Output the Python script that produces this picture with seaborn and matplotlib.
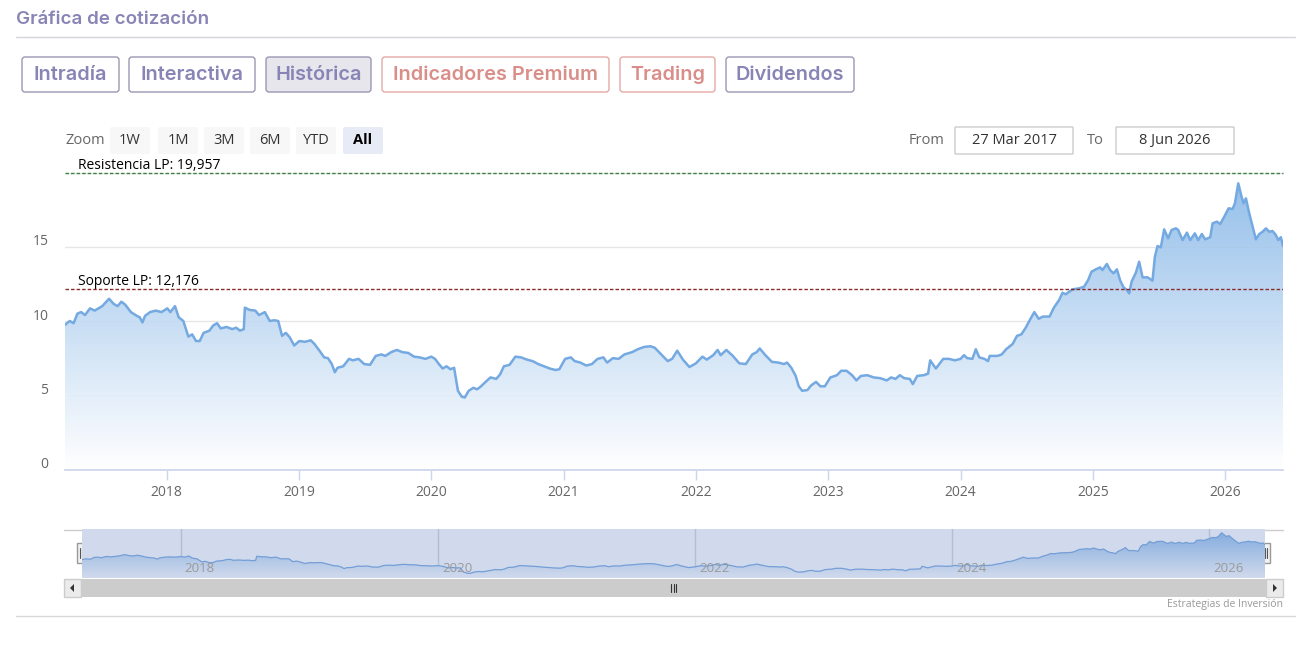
import numpy as np
import matplotlib
matplotlib.use("Agg")
import matplotlib.pyplot as plt
import matplotlib.transforms as mtransforms
from matplotlib.patches import FancyBboxPatch, Rectangle
from matplotlib.colors import LinearSegmentedColormap
import seaborn as sns

# price history (decimal years, price)
dates = [
    2017.233, 2017.269, 2017.298, 2017.327, 2017.355, 2017.384, 2017.422, 2017.457,
    2017.514, 2017.566, 2017.601, 2017.630, 2017.659, 2017.688, 2017.731, 2017.775,
    2017.798, 2017.818, 2017.838, 2017.876, 2017.919, 2017.962, 2018.006, 2018.029,
    2018.064, 2018.092, 2018.127, 2018.165, 2018.194, 2018.223, 2018.251, 2018.280,
    2018.324, 2018.353, 2018.382, 2018.410, 2018.454, 2018.497, 2018.526, 2018.555,
    2018.584, 2018.592, 2018.627, 2018.671, 2018.699, 2018.743, 2018.780, 2018.815,
    2018.844, 2018.873, 2018.902, 2018.931, 2018.965, 2019.003, 2019.046, 2019.090,
    2019.118, 2019.156, 2019.191, 2019.220, 2019.249, 2019.272, 2019.292, 2019.335,
    2019.379, 2019.408, 2019.451, 2019.494, 2019.538, 2019.581, 2019.624, 2019.653,
    2019.697, 2019.740, 2019.783, 2019.827, 2019.870, 2019.913, 2019.957, 2020.000,
    2020.029, 2020.058, 2020.087, 2020.116, 2020.145, 2020.173, 2020.202, 2020.231,
    2020.254, 2020.283, 2020.318, 2020.347, 2020.376, 2020.405, 2020.448, 2020.491,
    2020.520, 2020.549, 2020.592, 2020.636, 2020.679, 2020.723, 2020.766, 2020.809,
    2020.853, 2020.896, 2020.939, 2020.968, 2021.012, 2021.055, 2021.084, 2021.127,
    2021.171, 2021.214, 2021.257, 2021.301, 2021.329, 2021.373, 2021.416, 2021.460,
    2021.517, 2021.561, 2021.607, 2021.656, 2021.689, 2021.738, 2021.787, 2021.820,
    2021.859, 2021.902, 2021.951, 2022.000, 2022.049, 2022.082, 2022.131, 2022.164,
    2022.187, 2022.230, 2022.279, 2022.328, 2022.377, 2022.426, 2022.459, 2022.482,
    2022.525, 2022.574, 2022.623, 2022.666, 2022.689, 2022.721, 2022.754, 2022.777,
    2022.803, 2022.843, 2022.869, 2022.908, 2022.941, 2022.974, 2023.016, 2023.066,
    2023.098, 2023.138, 2023.180, 2023.213, 2023.246, 2023.295, 2023.344, 2023.393,
    2023.443, 2023.475, 2023.508, 2023.541, 2023.574, 2023.616, 2023.639, 2023.672,
    2023.721, 2023.754, 2023.770, 2023.813, 2023.869, 2023.911, 2023.957, 2024.000,
    2024.026, 2024.049, 2024.089, 2024.115, 2024.141, 2024.180, 2024.207, 2024.220,
    2024.279, 2024.311, 2024.344, 2024.393, 2024.426, 2024.459, 2024.492, 2024.525,
    2024.557, 2024.590, 2024.623, 2024.672, 2024.705, 2024.744, 2024.770, 2024.795,
    2024.820, 2024.846, 2024.896, 2024.933, 2024.964, 2024.989, 2025.022, 2025.054,
    2025.072, 2025.105, 2025.130, 2025.156, 2025.181, 2025.206, 2025.231, 2025.256,
    2025.274, 2025.292, 2025.324, 2025.349, 2025.375, 2025.413, 2025.450, 2025.468,
    2025.488, 2025.513, 2025.538, 2025.568, 2025.594, 2025.627, 2025.644, 2025.677,
    2025.710, 2025.735, 2025.770, 2025.795, 2025.823, 2025.848, 2025.886, 2025.904,
    2025.937, 2025.961, 2025.992, 2026.025, 2026.055, 2026.073, 2026.098, 2026.123,
    2026.138, 2026.156, 2026.181, 2026.207, 2026.231, 2026.257, 2026.282, 2026.307,
    2026.332, 2026.357, 2026.382, 2026.400, 2026.420, 2026.436,
]
prices = [
    9.75, 10.0, 9.85, 10.5, 10.6, 10.4, 10.85, 10.7,
    11.0, 11.5, 11.15, 11.0, 11.3, 11.1, 10.6, 10.35,
    10.25, 9.9, 10.35, 10.6, 10.7, 10.6, 10.85, 10.6,
    11.0, 10.25, 10.0, 8.95, 9.1, 8.65, 8.65, 9.2,
    9.35, 9.7, 9.85, 9.5, 9.6, 9.45, 9.55, 9.35,
    9.45, 10.9, 10.75, 10.7, 10.4, 10.6, 10.0, 10.05,
    10.0, 9.0, 9.2, 8.9, 8.35, 8.65, 8.6, 8.7,
    8.45, 8.0, 7.55, 7.5, 7.1, 6.55, 6.85, 6.95,
    7.45, 7.35, 7.45, 7.1, 7.05, 7.65, 7.75, 7.65,
    7.9, 8.05, 7.9, 7.85, 7.6, 7.55, 7.45, 7.6,
    7.45, 7.1, 6.8, 6.95, 6.75, 6.85, 5.3, 4.9,
    4.85, 5.3, 5.5, 5.4, 5.6, 5.85, 6.2, 6.1,
    6.4, 6.95, 7.05, 7.6, 7.55, 7.4, 7.3, 7.1,
    6.95, 6.8, 6.7, 6.75, 7.45, 7.55, 7.3, 7.2,
    7.0, 7.1, 7.45, 7.55, 7.2, 7.5, 7.45, 7.75,
    7.9, 8.1, 8.25, 8.3, 8.2, 7.75, 7.3, 7.45,
    8.0, 7.4, 6.9, 7.15, 7.6, 7.4, 7.7, 8.05,
    7.7, 8.05, 7.65, 7.15, 7.1, 7.75, 7.9, 8.15,
    7.7, 7.25, 7.2, 7.1, 7.2, 6.85, 6.3, 5.6,
    5.3, 5.35, 5.65, 5.9, 5.6, 5.6, 6.2, 6.35,
    6.65, 6.65, 6.35, 6.0, 6.3, 6.35, 6.2, 6.15,
    6.0, 6.2, 6.1, 6.35, 6.15, 6.1, 5.75, 6.3,
    6.35, 6.45, 7.35, 6.8, 7.45, 7.45, 7.35, 7.45,
    7.7, 7.5, 7.45, 8.1, 7.55, 7.45, 7.3, 7.65,
    7.65, 7.75, 8.1, 8.45, 9.0, 9.1, 9.55, 10.1,
    10.6, 10.15, 10.3, 10.3, 10.9, 11.41, 11.9, 11.8,
    11.97, 12.13, 12.2, 12.31, 12.76, 13.32, 13.48, 13.61,
    13.43, 13.84, 13.43, 13.21, 13.48, 12.72, 12.27, 12.09,
    11.86, 12.65, 13.25, 13.99, 12.94, 12.94, 12.72, 14.33,
    15.05, 14.96, 16.17, 15.57, 16.13, 16.24, 16.13, 15.45,
    15.95, 15.45, 15.9, 15.45, 15.86, 15.5, 15.64, 16.58,
    16.69, 16.53, 17.02, 17.59, 17.54, 17.93, 19.27, 18.37,
    17.93, 18.26, 17.25, 16.35, 15.5, 15.86, 16.01, 16.24,
    16.01, 16.06, 15.79, 15.45, 15.64, 15.05,
]

resistance = 19.957
support = 12.176
resistance_label = "Resistencia LP: 19,957"
support_label = "Soporte LP: 12,176"
year_ticks = [2018, 2019, 2020, 2021, 2022, 2023, 2024, 2025, 2026]
nav_years = [2018, 2020, 2022, 2024, 2026]
y_ticks = [0, 5, 10, 15, 20]
y_tick_labels = ["0", "5", "10", "15", ""]
tabs = ["Intradía", "Interactiva", "Histórica", "Indicadores Premium", "Trading", "Dividendos"]
zoom_buttons = ["1W", "1M", "3M", "6M", "YTD", "All"]
date_from = "27 Mar 2017"
date_to = "8 Jun 2026"

sns.set_theme(style="white")
plt.rcParams["font.family"] = ["Open Sans", "DejaVu Sans"]

W, H = 1309, 645
fig = plt.figure(figsize=(W / 100, H / 100), dpi=100)

# page furniture drawn in pixel coordinates
ui = fig.add_axes([0, 0, 1, 1])
ui.set_xlim(0, W)
ui.set_ylim(H, 0)
ui.axis("off")

def box(x0, y0, x1, y1, fc, ec, r=3, lw=1):
    ui.add_patch(FancyBboxPatch((x0, y0), x1 - x0, y1 - y0,
                                boxstyle=f"round,pad=0,rounding_size={r}",
                                fc=fc, ec=ec, lw=lw))

head_font = ["Inter", "DejaVu Sans"]
purple = "#8884b6"
red = "#da8e89"
ui.text(16, 20, "Gráfica de cotización", fontsize=13.5, color=purple,
        weight="semibold", va="center", family=head_font)
ui.plot([16, 1295], [36.5, 36.5], color="#d4d4dc", lw=1)

tab_x = [(22, 119), (129, 255), (266, 371), (382, 609), (620, 715), (726, 854)]
for name, (x0, x1) in zip(tabs, tab_x):
    premium = name in ("Indicadores Premium", "Trading")
    active = name == "Histórica"
    fc = "#e6e6ec" if active else "white"
    ec = "#e3aaa5" if premium else "#9b97b4"
    box(x0, 57, x1, 92, fc, ec, r=3)
    ui.text((x0 + x1) / 2, 75, name, ha="center", va="center", fontsize=14.3,
            weight="semibold", color=red if premium else purple, family=head_font)

ui.text(65, 140, "Zoom", fontsize=10.5, color="#666666", va="center")
zoom_x = [110, 158, 204, 250, 296, 343]
for name, x0 in zip(zoom_buttons, zoom_x):
    sel = name == "All"
    box(x0, 127, x0 + 40, 154, "#e6ebf5" if sel else "#f7f7f7", "none", r=2)
    ui.text(x0 + 20, 140.5, name, ha="center", va="center", fontsize=10.5,
            color="#000000" if sel else "#333333", weight="bold" if sel else "normal")

ui.text(909, 140, "From", fontsize=10.5, color="#666666", va="center")
box(955, 127, 1073, 154, "white", "#cccccc", r=0)
ui.text(1014, 140.5, date_from, ha="center", va="center", fontsize=10.5, color="#333333")
ui.text(1087, 140, "To", fontsize=10.5, color="#666666", va="center")
box(1116, 127, 1234, 154, "white", "#cccccc", r=0)
ui.text(1175, 140.5, date_to, ha="center", va="center", fontsize=10.5, color="#333333")

x0, x1 = dates[0], dates[-1]
line_color = "#74a9e1"
fill_cmap = LinearSegmentedColormap.from_list("fill", ["#ffffff", "#88b8e8"])

# main chart
ax = fig.add_axes([65 / W, 1 - 469.5 / H, (1283 - 65) / W, (469.5 - 172.5) / H])
ax.set_xlim(x0, x1)
ax.set_ylim(0, 20)
ax.set_axisbelow(True)
ax.yaxis.grid(True, color="#e6e6e6", lw=1)
poly = ax.fill_between(dates, prices, 0, color="none", lw=0)
grad = ax.imshow(np.linspace(0, 1, 256).reshape(-1, 1), extent=[x0, x1, 0, 20],
                 origin="lower", aspect="auto", cmap=fill_cmap, alpha=0.92, zorder=1)
grad.set_clip_path(poly.get_paths()[0], transform=ax.transData)
sns.lineplot(x=dates, y=prices, ax=ax, color=line_color, linewidth=1.8,
             estimator=None, sort=False, zorder=3)
ax.axhline(resistance, color="#3f7f3f", lw=1, ls=(0, (2.5, 1.5)), zorder=4, clip_on=False)
ax.axhline(support, color="#8b2a2a", lw=1, ls=(0, (2.5, 1.5)), zorder=4)
lab_tr = mtransforms.blended_transform_factory(ax.transAxes, ax.transData) + \
    mtransforms.ScaledTranslation(0, 3 / 72, fig.dpi_scale_trans)
ax.text(13 / 1218, resistance, resistance_label, transform=lab_tr, fontsize=10,
        color="#000000", va="baseline", clip_on=False)
ax.text(13 / 1218, support, support_label, transform=lab_tr, fontsize=10,
        color="#000000", va="baseline")

ax.set_xticks(year_ticks)
ax.set_xticklabels([str(y) for y in year_ticks])
ax.set_yticks(y_ticks)
ax.set_yticklabels(y_tick_labels)
ax.tick_params(axis="x", length=7, width=1, color="#ccd6eb", labelcolor="#666666",
               labelsize=10, pad=4, direction="out", bottom=True)
ax.tick_params(axis="y", length=0, labelcolor="#666666", labelsize=10, pad=12)
up = mtransforms.ScaledTranslation(0, 5 / 72, fig.dpi_scale_trans)
for lbl in ax.get_yticklabels():
    lbl.set_transform(lbl.get_transform() + up)
for side in ("left", "right", "top"):
    ax.spines[side].set_visible(False)
ax.spines["bottom"].set_color("#ccd6eb")
ax.set_xlabel("")
ax.set_ylabel("")

# navigator
nav = fig.add_axes([82 / W, 1 - 578 / H, (1265 - 82) / W, 49 / H])
nav.set_xlim(x0, x1)
nav.set_ylim(3.2, 20.6)
for yr in nav_years:
    nav.axvline(yr, color="#d8d8d8", lw=1, zorder=0)
npoly = nav.fill_between(dates, prices, 3.2, color="none", lw=0)
ngrad = nav.imshow(np.linspace(0, 1, 256).reshape(-1, 1), extent=[x0, x1, 3.2, 20.6],
                   origin="lower", aspect="auto", cmap=fill_cmap, zorder=1)
ngrad.set_clip_path(npoly.get_paths()[0], transform=nav.transData)
sns.lineplot(x=dates, y=prices, ax=nav, color="#7aa9e0", linewidth=0.9,
             estimator=None, sort=False, zorder=2)
nav.axvspan(x0, x1, color=(102 / 255, 133 / 255, 194 / 255), alpha=0.3, lw=0, zorder=3)
nav_tr = mtransforms.blended_transform_factory(nav.transData, nav.transAxes) + \
    mtransforms.ScaledTranslation(3 / 72, 0, fig.dpi_scale_trans)
for yr in nav_years:
    nav.text(yr, 0.2, str(yr), transform=nav_tr, fontsize=9.5, color="#9a9a9a",
             va="center", ha="left", zorder=4)
nav.set_xticks([])
nav.set_yticks([])
nav.set_xlabel("")
nav.set_ylabel("")
for side in nav.spines:
    nav.spines[side].set_visible(False)

# navigator outline, handles and scrollbar
ui.plot([64, 1283], [529.5, 529.5], color="#cccccc", lw=1)
for hx in (81, 1266):
    ui.add_patch(Rectangle((hx - 4, 543), 8, 20, fc="#f2f2f2", ec="#999999", lw=1, zorder=5))
    ui.plot([hx - 1, hx - 1], [548, 558], color="#555555", lw=0.8, zorder=6)
    ui.plot([hx + 1, hx + 1], [548, 558], color="#555555", lw=0.8, zorder=6)
ui.add_patch(Rectangle((64, 579), 1219, 18, fc="#f2f2f2", ec="#f2f2f2", lw=0))
ui.add_patch(Rectangle((81, 579), 1185, 18, fc="#cccccc", ec="#cccccc", lw=0))
for bx in (64, 1266):
    ui.add_patch(Rectangle((bx, 579), 17, 18, fc="#ebebeb", ec="#cccccc", lw=1))
ui.add_patch(plt.Polygon([[74, 584], [74, 592], [70, 588]], closed=True, fc="#333333", ec="none"))
ui.add_patch(plt.Polygon([[1273, 584], [1273, 592], [1277, 588]], closed=True, fc="#333333", ec="none"))
for gx in (671, 673.5, 676):
    ui.plot([gx, gx], [584, 592], color="#333333", lw=0.8)

ui.text(1283, 605, "Estrategias de Inversión", ha="right", va="center",
        fontsize=7.5, color="#999999")
ui.plot([16, 1295], [615.5, 615.5], color="#d8d8d8", lw=1)

fig.savefig("out.png", dpi=100)
